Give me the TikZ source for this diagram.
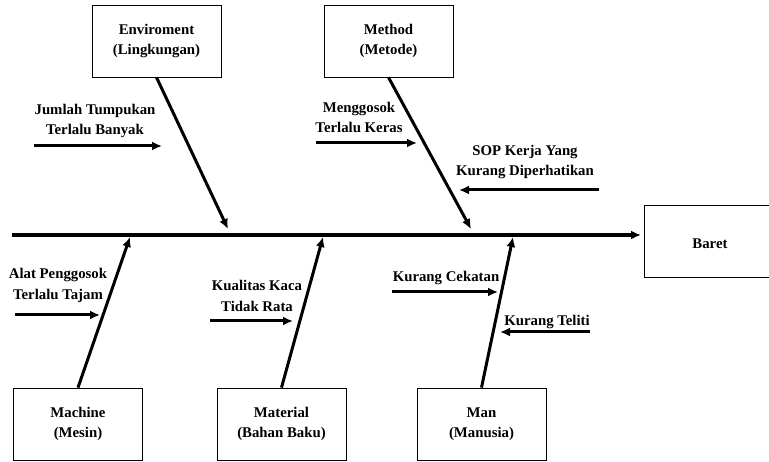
\documentclass[tikz,border=0pt]{standalone}
\usepackage{fontspec}
\setmainfont{Liberation Serif}
\usepackage{tikz}
\usetikzlibrary{positioning,shapes,arrows.meta}

\tikzset{
  box/.style={draw, line width=0.8pt, minimum width=129pt, minimum height=72pt, align=center, execute at begin node={\rule{0pt}{16pt}}, font=\bfseries\fontsize{14.8}{20.5}\selectfont},
  cause/.style={align=center, inner sep=0pt, font=\bfseries\fontsize{14.8}{20.5}\selectfont},
  bone/.style={->, line width=3pt},
}

\begin{document}
\begin{tikzpicture}[x=1pt, y=-1pt, >={Latex[length=10pt,width=9pt]}]
				\useasboundingbox (0,0) rectangle (769,462);
				\node[box] (env) at (156.5,41) {Enviroment\\(Lingkungan)};
				\node[box] (method) at (388.5,41) {Method\\(Metode)};
				\node[box] (machine) at (78,424) {Machine\\(Mesin)};
				\node[box] (material) at (281.5,424) {Material\\(Bahan Baku)};
				\node[box] (man) at (481.5,424) {Man\\(Manusia)};
				\node[box, minimum width=132pt] (baret) at (710,241) {Baret};
				\coordinate (tail) at (12,235);
				\coordinate (head) at (641,235);
				\draw[->, line width=4pt] (tail) -- (head);
				\coordinate (envtip) at (228,229);
				\coordinate (methodtip) at (471,229);
				\coordinate (machinetip) at (130,237);
				\coordinate (materialtip) at (323,237);
				\coordinate (mantip) at (513,237);
				\draw[bone] (env.south) -- (envtip);
				\draw[bone] (method.south) -- (methodtip);
				\draw[bone] (machine.north) -- (machinetip);
				\draw[bone] (material.north) -- (materialtip);
				\draw[bone] (man.north) -- (mantip);
				\node[cause] (jumlah) at (95,121) {Jumlah Tumpukan\\Terlalu Banyak};
				\node[cause] (gosok) at (359,117.5) {Menggosok\\Terlalu Keras};
				\node[cause] (sop) at (525,162) {SOP Kerja Yang\\Kurang Diperhatikan};
				\node[cause] (alat) at (58,285.5) {Alat Penggosok\\Terlalu Tajam};
				\node[cause] (kaca) at (257,296) {Kualitas Kaca\\Tidak Rata};
				\node[cause] (cekatan) at (446,278) {Kurang Cekatan};
				\node[cause] (teliti) at (547,322) {Kurang Teliti};
				\coordinate (j1) at (34,146);   \coordinate (j2) at (162,146);
				\coordinate (g1) at (316,143);  \coordinate (g2) at (417,143);
				\coordinate (s1) at (599,190);  \coordinate (s2) at (459,190);
				\coordinate (a1) at (15,315);   \coordinate (a2) at (100,315);
				\coordinate (k1) at (210,321);  \coordinate (k2) at (293,321);
				\coordinate (c1) at (392,292);  \coordinate (c2) at (498,292);
				\coordinate (t1) at (590,332);  \coordinate (t2) at (500,332);
				\draw[bone] (j1) -- (j2);
				\draw[bone] (g1) -- (g2);
				\draw[bone] (s1) -- (s2);
				\draw[bone] (a1) -- (a2);
				\draw[bone] (k1) -- (k2);
				\draw[bone] (c1) -- (c2);
				\draw[bone] (t1) -- (t2);
			\end{tikzpicture}
\end{document}
